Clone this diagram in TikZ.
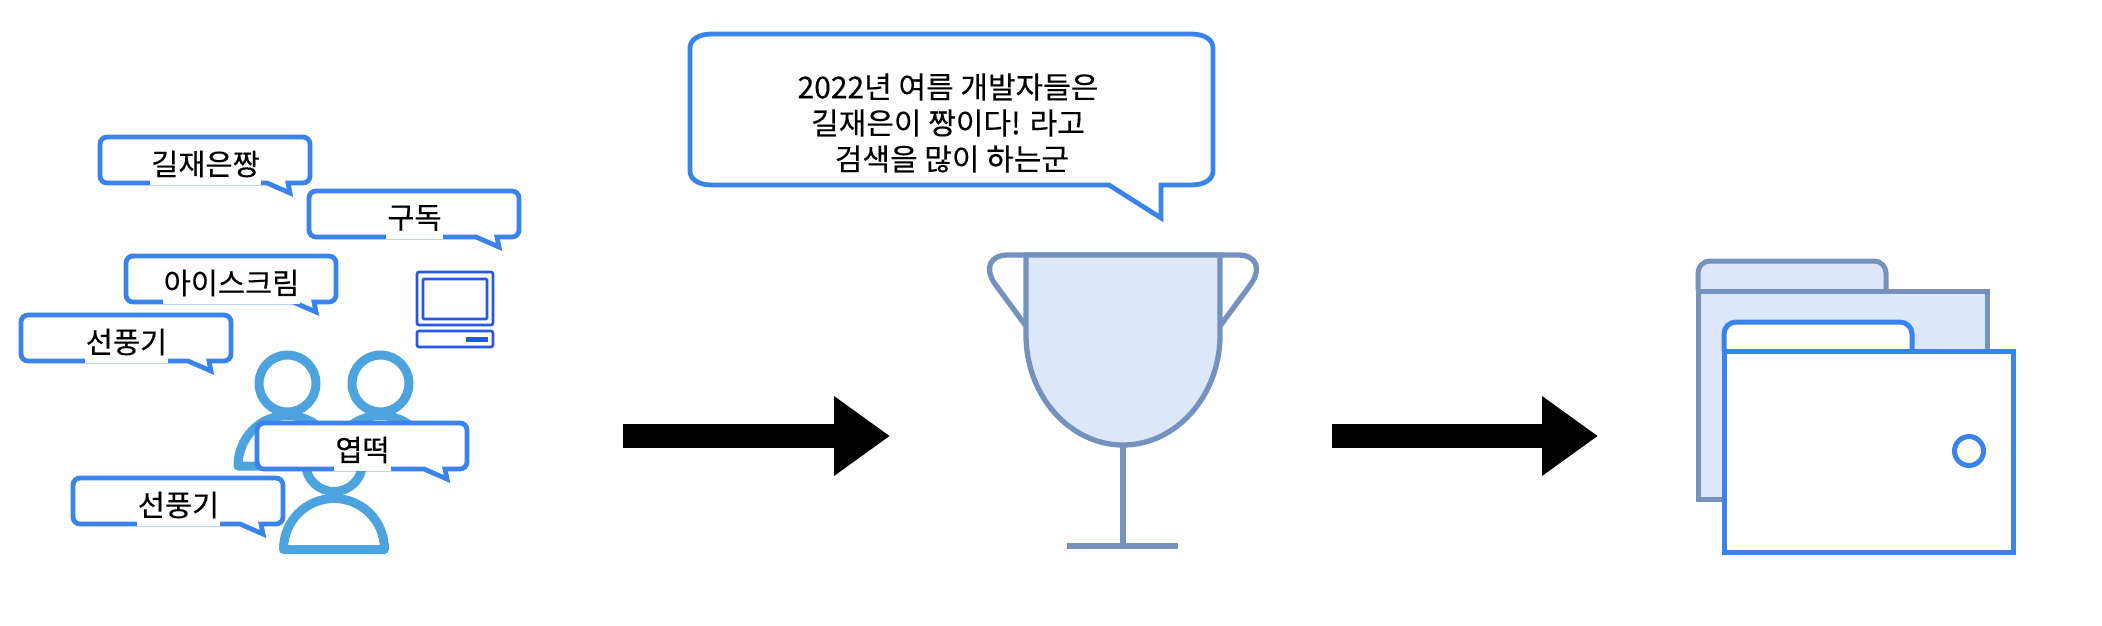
\documentclass[tikz,border=0pt]{standalone}
\usepackage{fontspec}
\setmainfont{Noto Sans CJK KR}[FakeBold=0.25]
\usepackage{xcolor}
\usetikzlibrary{arrows.meta}
\definecolor{bubbleblue}{HTML}{3A83EA}
\definecolor{peopleblue}{HTML}{4CA3DD}
\definecolor{screenblue}{HTML}{2458E8}
\definecolor{slateblue}{HTML}{7592BF}
\definecolor{paleblue}{HTML}{DCE7F9}
\tikzset{
  bubble/.style={draw=bubbleblue, fill=white, line width=4.8pt, rounded corners=7pt},
  bubbletext/.style={fill=white, inner xsep=1pt, inner ysep=0pt, minimum height=41pt, font=\fontsize{29.5}{29.5}\selectfont},
  bigarrow/.style={line width=24pt, draw=black, -{Triangle[length=56pt,width=76pt]}},
}

\begin{document}
\begin{tikzpicture}[x=1pt, y=-1pt]
    \useasboundingbox (0,0) rectangle (2102,626);

    % People in the crowd
    \draw[peopleblue, line width=9pt] (287.5,383.5) circle (28.5);
    \draw[peopleblue, line width=9pt] (380.5,383.5) circle (28.5);
    \draw[peopleblue, line width=9pt, line join=round] (238,466) .. controls (238,438) and (260,415.5) .. (287.5,415.5) .. controls (315,415.5) and (337,438) .. (337,466) -- cycle;
    \draw[peopleblue, line width=9pt, line join=round] (331,466) .. controls (331,438) and (353,415.5) .. (380.5,415.5) .. controls (408,415.5) and (430,438) .. (430,466) -- cycle;
    \draw[peopleblue, line width=9pt] (334,463) circle (28.5);
    \draw[peopleblue, line width=9pt, line join=round] (283.5,549.5) .. controls (283.5,521) and (306,498.5) .. (334,498.5) .. controls (362,498.5) and (384.5,521) .. (384.5,549.5) -- cycle;

    % Computer
    \draw[screenblue, line width=2.6pt, rounded corners=2pt] (417,272) rectangle (493,325);
    \draw[screenblue, line width=2.6pt, rounded corners=1pt] (423,279) rectangle (487,319);
    \draw[screenblue, line width=2.6pt, rounded corners=2pt] (417,331) rectangle (493,347);
    \draw[screenblue, line width=5pt] (466,339) -- (488,339);

    % Search words
    \foreach \px/\py/\wordname/\word in {100/137/jjang/길재은짱, 309/191/sub/구독, 126/256/icecream/아이스크림, 21/315/fanA/선풍기, 257/423/tteok/엽떡, 73/478/fanB/선풍기}{
        \draw[bubble] (\px,\py) -- (\px+210,\py) -- (\px+210,\py+46) [sharp corners] -- (\px+188,\py+46) -- (\px+190,\py+56) -- (\px+167,\py+46) [rounded corners=7pt] -- (\px,\py+46) -- cycle;
        \node[bubbletext] (\wordname) at (\px+105.5,\py+27) {\word};
    }

    % Arrows
    \coordinate (crowdout) at (623,436);
    \coordinate (cupin) at (890,436);
    \coordinate (cupout) at (1332,436);
    \coordinate (folderin) at (1598,436);
    \draw[bigarrow] (crowdout) -- (cupin);
    \draw[bigarrow] (cupout) -- (folderin);

    % Speech of the trophy
    \draw[bubble, sharp corners] (712,34) -- (1191,34) .. controls (1205,34) and (1213,40) .. (1213,48) -- (1213,171) .. controls (1213,179) and (1205,185) .. (1191,185) -- (1161,185) -- (1161,218) -- (1109,185) -- (712,185) .. controls (698,185) and (690,179) .. (690,171) -- (690,48) .. controls (690,40) and (698,34) .. (712,34) -- cycle;
    \node[align=center, font=\fontsize{30}{36}\selectfont] (trend) at (948,123) {2022년 여름 개발자들은\\길재은이 짱이다! 라고\\\hspace*{8pt}검색을 많이 하는군};

    % Trophy
    \draw[slateblue, line width=5.3pt] (1026,326) -- (995,284) .. controls (984,268) and (990,255) .. (1008,255) -- (1238,255) .. controls (1256,255) and (1262,268) .. (1251,284) -- (1220,326);
    \draw[slateblue, fill=paleblue, line width=5.3pt] (1026,255) -- (1026,335) .. controls (1026,396) and (1070,445) .. (1123,445) .. controls (1176,445) and (1220,396) .. (1220,335) -- (1220,255) -- cycle;
    \draw[slateblue, line width=5.3pt] (1123,445) -- (1123,546);
    \draw[slateblue, line width=5.3pt] (1067,546) -- (1178,546);

    % Folders
    \draw[slateblue, fill=paleblue, line width=5pt, rounded corners=12pt] (1698,291) -- (1698,261) -- (1886,261) -- (1886,291);
    \draw[slateblue, fill=paleblue, line width=5pt] (1698,291) rectangle (1987,499);
    \draw[bubbleblue, fill=white, line width=5pt, rounded corners=12pt] (1724,351) -- (1724,322) -- (1912,322) -- (1912,351);
    \draw[bubbleblue, fill=white, line width=5pt] (1724,351) rectangle (2013,552);
    \draw[bubbleblue, line width=5pt] (1969,451) circle (14.5);
\end{tikzpicture}
\end{document}
